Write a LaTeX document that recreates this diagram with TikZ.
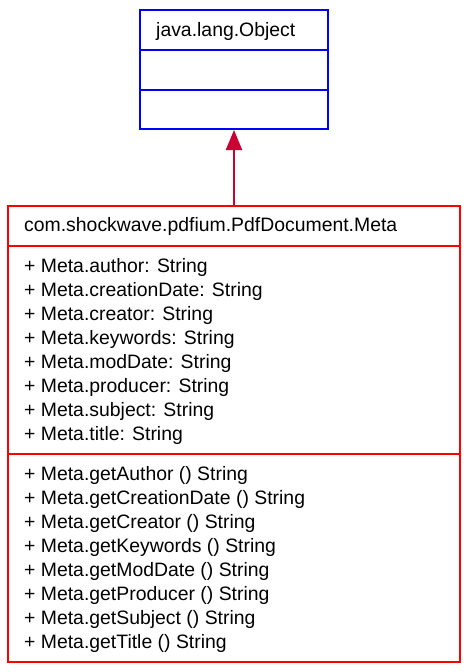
\documentclass[tikz,border=0pt]{standalone}
\usepackage{fontspec}
\setmainfont{Liberation Sans}
\usetikzlibrary{arrows.meta}
\definecolor{objblue}{RGB}{0,0,255}
\definecolor{metared}{RGB}{255,0,0}
\definecolor{arrowred}{RGB}{204,0,51}
\begin{document}
\begin{tikzpicture}[x=1pt,y=-1pt,
  umlbox/.style={draw,line width=2pt,inner sep=0pt,fill=white},
  txt/.style={anchor=base west,inner sep=0pt,font=\fontsize{19.4}{24}\selectfont},
  divider/.style={line width=2pt}]
\useasboundingbox (0,0) rectangle (468,672);
\node[umlbox,draw=objblue,minimum width=188pt,minimum height=119pt] (obj) at (234,69.5) {};
\node[umlbox,draw=metared,minimum width=452pt,minimum height=456pt] (meta) at (234,434) {};
\draw[divider,objblue] (140,50) -- (328,50);
\draw[divider,objblue] (140,90) -- (328,90);
\draw[divider,metared] (8,246) -- (460,246);
\draw[divider,metared] (8,454) -- (460,454);
\node[txt] (t0) at (156,36) {java.lang.Object};
\node[txt] (t1) at (24,231.5) {com.shockwave.pdfium.PdfDocument.Meta};
\node[txt] (a1) at (24,272.5) {+ Meta.author: String};
\node[txt] (a2) at (24,296.5) {+ Meta.creationDate: String};
\node[txt] (a3) at (24,320.5) {+ Meta.creator: String};
\node[txt] (a4) at (24,344.5) {+ Meta.keywords: String};
\node[txt] (a5) at (24,368.5) {+ Meta.modDate: String};
\node[txt] (a6) at (24,392.5) {+ Meta.producer: String};
\node[txt] (a7) at (24,416.5) {+ Meta.subject: String};
\node[txt] (a8) at (24,440.5) {+ Meta.title: String};
\node[txt] (m1) at (24,480.5) {+ Meta.getAuthor () String};
\node[txt] (m2) at (24,504.5) {+ Meta.getCreationDate () String};
\node[txt] (m3) at (24,528.5) {+ Meta.getCreator () String};
\node[txt] (m4) at (24,552.5) {+ Meta.getKeywords () String};
\node[txt] (m5) at (24,576.5) {+ Meta.getModDate () String};
\node[txt] (m6) at (24,600.5) {+ Meta.getProducer () String};
\node[txt] (m7) at (24,624.5) {+ Meta.getSubject () String};
\node[txt] (m8) at (24,648.5) {+ Meta.getTitle () String};
\draw[arrowred,line width=2pt,-{Triangle[width=16pt,length=20pt]}] (meta.north) -- (obj.south);
\end{tikzpicture}
\end{document}
